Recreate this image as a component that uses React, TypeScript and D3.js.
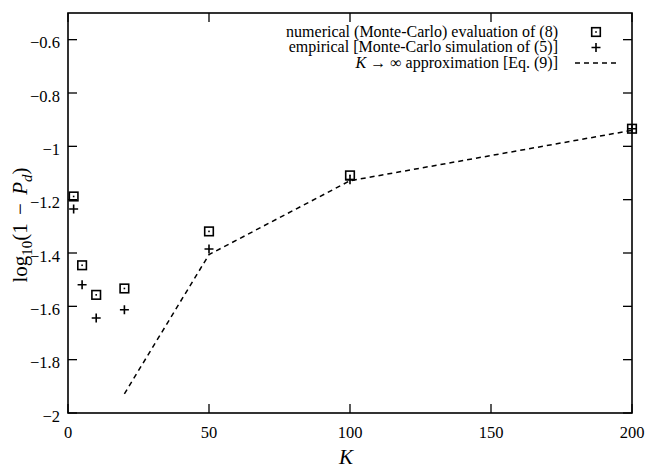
import { useMemo } from "react";
import * as d3 from "d3";

// K values and log10(1 - Pd)
const numericalK = [2, 5, 10, 20, 50, 100, 200];
const numericalVals = [-1.188, -1.446, -1.557, -1.533, -1.319, -1.109, -0.934];

const empiricalK = [2, 5, 10, 20, 50, 100, 200];
const empiricalVals = [-1.235, -1.519, -1.644, -1.613, -1.385, -1.125, -0.934];

const approxK = [20, 50, 100, 200];
const approxVals = [-1.928, -1.406, -1.129, -0.94];

const xTicks = [0, 50, 100, 150, 200];
const yTicks = [-2, -1.8, -1.6, -1.4, -1.2, -1, -0.8, -0.6];

const WIDTH = 647;
const HEIGHT = 470;
const MARGIN = { top: 13, right: 15, bottom: 57, left: 68 };
const serif = { fontFamily: "Liberation Serif" };
const TICK = 9;

const fmt = (v: number) => d3.format("")(v).replace("-", "\u2212");

export default function App() {
  const boundsWidth = WIDTH - MARGIN.left - MARGIN.right;
  const boundsHeight = HEIGHT - MARGIN.top - MARGIN.bottom;

  const xScale = useMemo(
    () => d3.scaleLinear().domain([0, 200]).range([0, boundsWidth]),
    [boundsWidth]
  );
  const yScale = useMemo(
    () => d3.scaleLinear().domain([-2, -0.5]).range([boundsHeight, 0]),
    [boundsHeight]
  );

  const approxLine = d3
    .line<number>()
    .x((_, i) => xScale(approxK[i]))
    .y((d) => yScale(d))(approxVals);

  const square = (cx: number, cy: number, key: string) => (
    <g key={key}>
      <rect x={cx - 4.3} y={cy - 4.3} width={8.6} height={8.6} fill="none" stroke="black" strokeWidth={1.6} />
      <rect x={cx - 0.8} y={cy - 0.8} width={1.6} height={1.6} fill="black" />
    </g>
  );
  const plus = (cx: number, cy: number, key: string) => (
    <path
      key={key}
      d={`M${cx - 4.5},${cy}H${cx + 4.5}M${cx},${cy - 4.5}V${cy + 4.5}`}
      stroke="black"
      strokeWidth={1.6}
    />
  );

  const legendX = 558;
  const legendBase = [36.5, 52, 67.5];
  const legendTexts = [
    <>numerical (Monte-Carlo) evaluation of (8)</>,
    <>empirical [Monte-Carlo simulation of (5)]</>,
    <>
      <tspan fontStyle="italic">K</tspan>
      <tspan dx={4}>{"\u2192"}</tspan>
      <tspan dx={4}>{"\u221E"}</tspan> approximation [Eq. (9)]
    </>,
  ];

  return (
    <svg
      width={WIDTH}
      height={HEIGHT}
      style={{ position: "absolute", left: 0, top: 0, background: "white" }}
    >
      <g transform={`translate(${MARGIN.left},${MARGIN.top})`}>
        {/* ticks, mirrored on all sides */}
        {xTicks.map((t) => (
          <g key={"xt" + t}>
            <line x1={xScale(t)} x2={xScale(t)} y1={boundsHeight} y2={boundsHeight - TICK} stroke="black" strokeWidth={1.3} />
            <line x1={xScale(t)} x2={xScale(t)} y1={0} y2={TICK} stroke="black" strokeWidth={1.3} />
            <text x={xScale(t)} y={boundsHeight + 25.3} textAnchor="middle" fontSize={16.5} style={serif}>
              {t}
            </text>
          </g>
        ))}
        {yTicks.map((t) => (
          <g key={"yt" + t}>
            <line x1={0} x2={TICK} y1={yScale(t)} y2={yScale(t)} stroke="black" strokeWidth={1.3} />
            <line x1={boundsWidth} x2={boundsWidth - TICK} y1={yScale(t)} y2={yScale(t)} stroke="black" strokeWidth={1.3} />
            <text x={-8} y={yScale(t)} dy={8.5} textAnchor="end" fontSize={16.5} style={serif}>
              {fmt(t)}
            </text>
          </g>
        ))}
        <rect x={0} y={0} width={boundsWidth} height={boundsHeight} fill="none" stroke="black" strokeWidth={1.6} />

        {/* K -> infinity approximation */}
        <path d={approxLine || ""} fill="none" stroke="black" strokeWidth={1.5} strokeDasharray="5,4" />

        {numericalVals.map((v, i) => square(xScale(numericalK[i]), yScale(v), "n" + i))}
        {empiricalVals.map((v, i) => plus(xScale(empiricalK[i]), yScale(v), "e" + i))}
      </g>

      {/* legend */}
      {legendTexts.map((t, i) => (
        <text key={"lt" + i} x={legendX} y={legendBase[i]} textAnchor="end" fontSize={16} style={serif}>
          {t}
        </text>
      ))}
      {square(596, legendBase[0] - 4.5, "ls")}
      {plus(596, legendBase[1] - 4.5, "lp")}
      <line x1={575} x2={617} y1={legendBase[2] - 4.5} y2={legendBase[2] - 4.5} stroke="black" strokeWidth={1.5} strokeDasharray="5,4" />

      {/* axis titles */}
      <text x={346} y={464} fontSize={21} fontStyle="italic" textAnchor="middle" style={serif}>
        K
      </text>
      <text transform="translate(27,225) rotate(-90)" textAnchor="middle" fontSize={21} style={serif}>
        log<tspan fontSize={15} dy={5}>10</tspan>
        <tspan dy={-5}>(1</tspan>
        <tspan dx={3}> {"\u2212"} </tspan>
        <tspan dx={3} fontStyle="italic">P</tspan>
        <tspan fontStyle="italic" fontSize={15} dy={5}>d</tspan>
        <tspan dy={-5}>)</tspan>
      </text>
    </svg>
  );
}
